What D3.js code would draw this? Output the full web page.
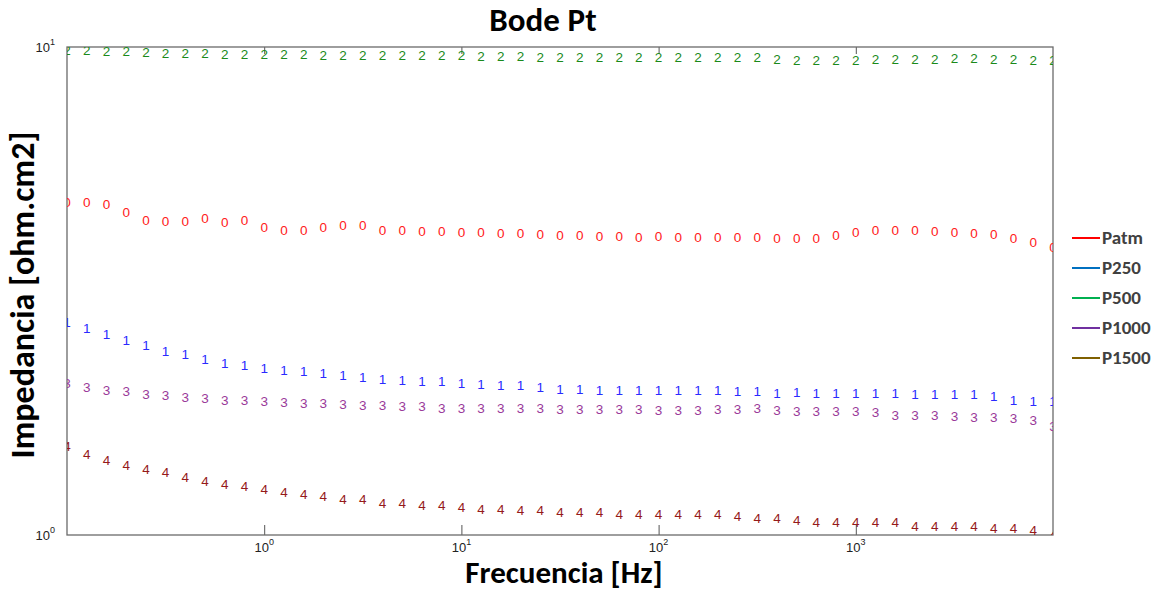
<!DOCTYPE html>
<html lang="en">
<head>
<meta charset="UTF-8">
<title>Bode Pt</title>
<script src="https://d3js.org/d3.v7.min.js"></script>
<style>
  body { margin: 0; background: #fff; }
  svg { display: block; }
</style>
</head>
<body>
<div id="chart"></div>
<script>
// frequencies, 10 points per decade
let freq = [0.1, 0.1259, 0.1585, 0.1995, 0.2512, 0.3162, 0.3981, 0.5012, 0.631, 0.7943,
            1, 1.259, 1.585, 1.995, 2.512, 3.162, 3.981, 5.012, 6.31, 7.943,
            10, 12.59, 15.85, 19.95, 25.12, 31.62, 39.81, 50.12, 63.1, 79.43,
            100, 125.9, 158.5, 199.5, 251.2, 316.2, 398.1, 501.2, 631, 794.3,
            1000, 1259, 1585, 1995, 2512, 3162, 3981, 5012, 6310, 7943, 10000]

let patm = [4.80, 4.80, 4.76, 4.57, 4.40, 4.38, 4.38, 4.45, 4.37, 4.40,
            4.27, 4.21, 4.21, 4.27, 4.30, 4.30, 4.21, 4.21, 4.18, 4.18,
            4.16, 4.16, 4.15, 4.15, 4.13, 4.11, 4.10, 4.08, 4.08, 4.07,
            4.08, 4.07, 4.07, 4.07, 4.07, 4.07, 4.05, 4.05, 4.05, 4.10,
            4.16, 4.21, 4.21, 4.20, 4.18, 4.16, 4.15, 4.12, 4.05, 3.97, 3.88]

let p250 = [2.72, 2.65, 2.57, 2.50, 2.44, 2.38, 2.34, 2.29, 2.25, 2.23,
            2.19, 2.17, 2.16, 2.14, 2.12, 2.10, 2.08, 2.07, 2.06, 2.06,
            2.04, 2.03, 2.02, 2.02, 2.01, 1.99, 1.99, 1.98, 1.98, 1.98,
            1.98, 1.98, 1.98, 1.98, 1.97, 1.97, 1.95, 1.96, 1.95, 1.95,
            1.95, 1.95, 1.95, 1.94, 1.94, 1.94, 1.94, 1.92, 1.89, 1.88, 1.88]

let p500 = [9.84, 9.84, 9.79, 9.79, 9.73, 9.71, 9.71, 9.69, 9.65, 9.64,
            9.64, 9.64, 9.64, 9.61, 9.61, 9.61, 9.61, 9.61, 9.61, 9.61,
            9.61, 9.58, 9.58, 9.58, 9.53, 9.51, 9.53, 9.53, 9.53, 9.53,
            9.50, 9.53, 9.50, 9.50, 9.50, 9.50, 9.43, 9.38, 9.38, 9.38,
            9.38, 9.43, 9.43, 9.43, 9.43, 9.46, 9.46, 9.43, 9.43, 9.38, 9.38]

let p1000 = [2.04, 2.01, 1.98, 1.97, 1.94, 1.93, 1.91, 1.90, 1.89, 1.89,
             1.88, 1.87, 1.86, 1.86, 1.85, 1.84, 1.84, 1.83, 1.83, 1.82,
             1.82, 1.82, 1.82, 1.82, 1.82, 1.81, 1.81, 1.81, 1.81, 1.81,
             1.80, 1.80, 1.80, 1.81, 1.81, 1.82, 1.80, 1.79, 1.79, 1.79,
             1.79, 1.78, 1.76, 1.76, 1.76, 1.75, 1.74, 1.74, 1.73, 1.72, 1.67]

let p1500 = [1.52, 1.46, 1.42, 1.39, 1.36, 1.34, 1.31, 1.29, 1.27, 1.26,
             1.24, 1.22, 1.21, 1.20, 1.18, 1.18, 1.16, 1.16, 1.15, 1.15,
             1.14, 1.13, 1.13, 1.12, 1.12, 1.11, 1.11, 1.11, 1.10, 1.10,
             1.10, 1.10, 1.10, 1.10, 1.09, 1.08, 1.08, 1.07, 1.06, 1.06,
             1.06, 1.06, 1.06, 1.04, 1.04, 1.04, 1.04, 1.03, 1.03, 1.02, 1.00]

let seriesNames = ["Patm", "P250", "P500", "P1000", "P1500"]
let seriesValues = [patm, p250, p500, p1000, p1500]
let markerChars = ["0", "1", "2", "3", "4"]
let markerColors = ["#ff2020", "#2a2aff", "#1a8a1a", "#9a3a9a", "#951a1a"]
let legendColors = ["#ff0000", "#0070c0", "#00b050", "#7030a0", "#7f6000"]

let xTicks = [1, 10, 100, 1000]
let xTickExp = ["0", "1", "2", "3"]
let yTicks = [1, 10]
let yTickExp = ["0", "1"]

// layout
let width = 1159, height = 590
let pLeft = 67, pRight = 1053, pTop = 47, pBottom = 535

let svg = d3.select("#chart").append("svg")
    .attr("width", width)
    .attr("height", height)

let x = d3.scaleLog().domain([0.1, 10000]).range([pLeft, pRight])
let y = d3.scaleLog().domain([1, 10]).range([pBottom, pTop])

svg.append("clipPath").attr("id", "plotclip")
  .append("rect")
    .attr("x", pLeft).attr("y", pTop)
    .attr("width", pRight - pLeft).attr("height", pBottom - pTop)

// inward ticks on bottom and top
svg.append("g")
    .attr("transform", "translate(0," + pBottom + ")")
    .call(d3.axisBottom(x).tickValues(xTicks).tickSize(-10).tickFormat(""))
    .call(g => g.select(".domain").remove())
    .selectAll("line").attr("stroke", "#555")

svg.append("g")
    .attr("transform", "translate(0," + pTop + ")")
    .call(d3.axisTop(x).tickValues(xTicks).tickSize(-7).tickFormat(""))
    .call(g => g.select(".domain").remove())
    .selectAll("line").attr("stroke", "#555")

// frame
svg.append("rect")
    .attr("x", pLeft).attr("y", pTop)
    .attr("width", pRight - pLeft).attr("height", pBottom - pTop)
    .attr("fill", "none")
    .attr("stroke", "#6a6a6a")
    .attr("stroke-width", 1.3)

// tick labels 10^n
let xl = svg.selectAll(".xlab")
  .data(xTicks)
  .enter().append("text")
    .attr("class", "xlab")
    .attr("x", d => x(d))
    .attr("y", 552)
    .attr("text-anchor", "middle")
    .style("font-family", "'Liberation Sans', Arial, sans-serif")
    .style("font-size", "13px")
    .attr("fill", "#222")
xl.append("tspan").text("10")
xl.append("tspan").attr("dy", -7).style("font-size", "9px").text((d, i) => xTickExp[i])

let yl = svg.selectAll(".ylab")
  .data(yTicks)
  .enter().append("text")
    .attr("class", "ylab")
    .attr("x", 55)
    .attr("y", d => y(d) + 5)
    .attr("text-anchor", "end")
    .style("font-family", "'Liberation Sans', Arial, sans-serif")
    .style("font-size", "13px")
    .attr("fill", "#222")
yl.append("tspan").text("10")
yl.append("tspan").attr("dy", -7).style("font-size", "9px").text((d, i) => yTickExp[i])

// markers drawn as characters
let plot = svg.append("g").attr("clip-path", "url(#plotclip)")

seriesValues.forEach(function(vals, s) {
    plot.selectAll(".m" + s)
      .data(vals)
      .enter().append("text")
        .attr("class", "m" + s)
        .attr("x", (d, i) => x(freq[i]))
        .attr("y", d => y(d))
        .attr("text-anchor", "middle")
        .attr("dominant-baseline", "central")
        .style("font-family", "'Liberation Sans', Arial, sans-serif")
        .style("font-size", "13.5px")
        .attr("fill", markerColors[s])
        .text(markerChars[s])
})

// titles
svg.append("text")
    .attr("x", 543).attr("y", 31)
    .attr("text-anchor", "middle")
    .style("font-family", "Carlito, 'Open Sans', sans-serif")
    .style("font-weight", "bold")
    .style("font-size", "33px")
    .attr("fill", "#000")
    .text("Bode Pt")

svg.append("text")
    .attr("x", 564).attr("y", 583)
    .attr("text-anchor", "middle")
    .style("font-family", "Carlito, 'Open Sans', sans-serif")
    .style("font-weight", "bold")
    .style("font-size", "31px")
    .attr("fill", "#000")
    .text("Frecuencia [Hz]")

svg.append("text")
    .attr("transform", "translate(34,295) rotate(-90)")
    .attr("text-anchor", "middle")
    .style("font-family", "Carlito, 'Open Sans', sans-serif")
    .style("font-weight", "bold")
    .style("font-size", "34px")
    .attr("fill", "#000")
    .text("Impedancia [ohm.cm2]")

// legend
let legend = svg.selectAll(".leg")
  .data(seriesNames)
  .enter().append("g")
    .attr("class", "leg")
    .attr("transform", (d, i) => "translate(1072," + (238 + i * 30) + ")")

legend.append("line")
    .attr("x1", 0).attr("x2", 28)
    .attr("stroke", (d, i) => legendColors[i])
    .attr("stroke-width", 2)

legend.append("text")
    .attr("x", 30).attr("y", 6)
    .style("font-family", "Carlito, 'Open Sans', sans-serif")
    .style("font-weight", "bold")
    .style("font-size", "19px")
    .attr("fill", "#404040")
    .text(d => d)
</script>
</body>
</html>
